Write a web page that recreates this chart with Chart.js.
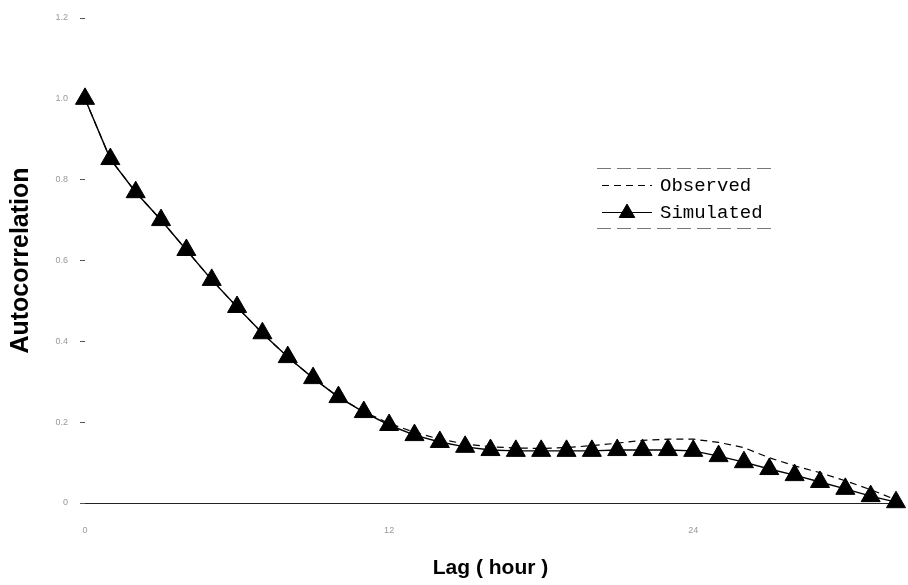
<!DOCTYPE html>
<html>
<head>
<meta charset="utf-8">
<script src="https://cdn.jsdelivr.net/npm/chart.js@4/dist/chart.umd.min.js"></script>
<style>
  body { margin: 0; background: #fff; }
  #wrap { width: 908px; height: 585px; }
</style>
</head>
<body>
<div id="wrap"><canvas id="chart" width="908" height="585"></canvas></div>
<script>
// lag in hours
const lags = [0, 1, 2, 3, 4, 5, 6, 7, 8, 9, 10, 11, 12, 13, 14, 15, 16,
              17, 18, 19, 20, 21, 22, 23, 24, 25, 26, 27, 28, 29, 30, 31, 32];

const observed = [1.0, 0.851, 0.769, 0.700, 0.626, 0.552, 0.485, 0.420, 0.361, 0.309, 0.262,
                  0.226, 0.197, 0.175, 0.158, 0.146, 0.139, 0.136, 0.135, 0.137, 0.142,
                  0.148, 0.155, 0.158, 0.158, 0.150, 0.137, 0.112, 0.092, 0.075, 0.055,
                  0.033, 0.008];

const simulated = [1.0, 0.851, 0.769, 0.700, 0.626, 0.552, 0.485, 0.420, 0.361, 0.309, 0.262,
                   0.225, 0.193, 0.168, 0.151, 0.139, 0.131, 0.129, 0.129, 0.129, 0.129,
                   0.131, 0.131, 0.131, 0.129, 0.116, 0.101, 0.084, 0.069, 0.052, 0.035,
                   0.017, 0.002];

const xTicks = [0, 12, 24];
const yTicks = [0, 0.2, 0.4, 0.6, 0.8, 1.0, 1.2];

const toPoints = (vals) => lags.map((x, i) => ({ x: x, y: vals[i] }));

// boxed legend drawn on the canvas: dashed sample and triangle sample
const boxLegend = {
    id: 'boxLegend',
    afterDraw(chart) {
        const ctx = chart.ctx;
        ctx.save();
        ctx.strokeStyle = '#777';
        ctx.lineWidth = 1;
        ctx.setLineDash([14, 6]);
        ctx.beginPath();
        ctx.moveTo(597, 168.5); ctx.lineTo(776, 168.5);
        ctx.moveTo(597, 228.5); ctx.lineTo(776, 228.5);
        ctx.stroke();

        ctx.strokeStyle = '#000';
        ctx.setLineDash([7, 5]);
        ctx.beginPath();
        ctx.moveTo(602, 185.5); ctx.lineTo(652, 185.5);
        ctx.stroke();

        ctx.setLineDash([]);
        ctx.beginPath();
        ctx.moveTo(602, 212.5); ctx.lineTo(652, 212.5);
        ctx.stroke();
        ctx.fillStyle = '#000';
        Chart.helpers.drawPoint(ctx, {
            pointStyle: 'triangle', radius: 9, rotation: 0, borderWidth: 1
        }, 627, 213);

        ctx.font = '19px "Liberation Mono", "Courier New", monospace';
        ctx.textBaseline = 'middle';
        ctx.textAlign = 'left';
        ctx.fillText('Observed', 660, 186);
        ctx.fillText('Simulated', 660, 213);
        ctx.restore();
    }
};

new Chart('chart', {
    type: 'line',
    data: {
        datasets: [{
            label: 'Observed',
            data: toPoints(observed),
            borderColor: '#000',
            borderWidth: 1.2,
            borderDash: [7, 5],
            pointRadius: 0,
            tension: 0
        }, {
            label: 'Simulated',
            data: toPoints(simulated),
            borderColor: '#000',
            backgroundColor: '#000',
            borderWidth: 1.4,
            pointStyle: 'triangle',
            pointRadius: 11,
            pointBorderWidth: 1,
            tension: 0
        }]
    },
    options: {
        responsive: false,
        animation: false,
        clip: false,
        layout: { padding: { top: 18, right: 5, left: 0, bottom: 0 } },
        plugins: {
            legend: { display: false },
            tooltip: { enabled: false }
        },
        scales: {
            x: {
                type: 'linear',
                min: 0,
                max: 32,
                afterBuildTicks: (scale) => { scale.ticks = xTicks.map(v => ({ value: v })); },
                afterFit: (scale) => { scale.height = 82; },
                grid: { display: true, drawOnChartArea: false, drawTicks: false },
                border: { display: true, color: '#222', width: 1, dash: [12, 3] },
                ticks: { color: '#999', font: { size: 9 }, padding: 22 },
                title: {
                    display: true,
                    text: 'Lag ( hour )',
                    color: '#000',
                    font: { family: '"Liberation Sans", Arial, sans-serif', size: 21, weight: 'bold' },
                    padding: { top: 0, bottom: 4 }
                }
            },
            y: {
                min: 0,
                max: 1.2,
                afterBuildTicks: (scale) => { scale.ticks = yTicks.map(v => ({ value: v })); },
                afterFit: (scale) => { scale.width = 85; },
                grid: { display: true, drawOnChartArea: false, tickLength: 5, color: '#555' },
                border: { display: false },
                ticks: { color: '#999', font: { size: 9 }, padding: 12 },
                title: {
                    display: true,
                    text: 'Autocorrelation',
                    color: '#000',
                    font: { family: '"Liberation Sans", Arial, sans-serif', size: 25, weight: 'bold' },
                    padding: { top: 6, bottom: 0 }
                }
            }
        }
    },
    plugins: [boxLegend]
});
</script>
</body>
</html>
